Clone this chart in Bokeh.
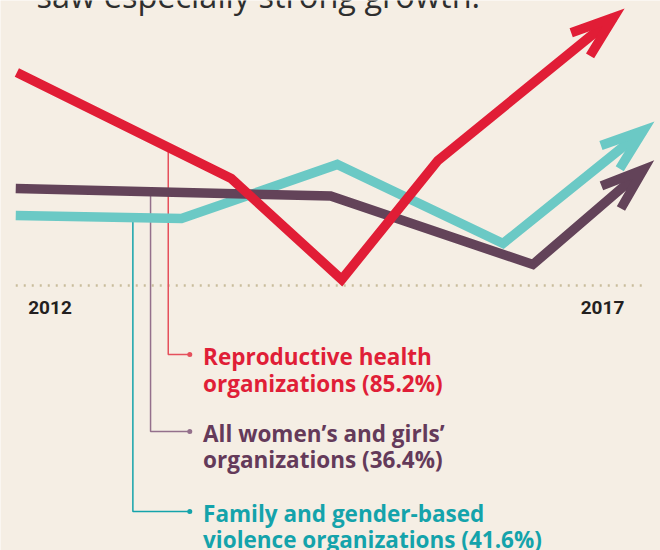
from bokeh.plotting import figure
from bokeh.models import Range1d
from bokeh.core.properties import value
from bokeh.embed import file_html
from bokeh.resources import INLINE
import numpy as np

# ---------------- data ----------------
title_text = "saw especially strong growth."
tick_years = [2012, 2017]
tick_labels = ["2012", "2017"]

# stylised index lines (x in years, y in index points above baseline)
red_x = [2011.70, 2013.64, 2014.64, 2015.51, 2017.10]
red_y = [213, 107, 6, 125, 268]
purple_x = [2011.69, 2014.54, 2016.37, 2017.37]
purple_y = [97, 89.5, 21, 116]
teal_x = [2011.69, 2013.19, 2014.60, 2016.10, 2017.37]
teal_y = [70, 67, 121, 42, 155]

red_label = "Reproductive health\norganizations (85.2%)"
purple_label = "All women\u2019s and girls\u2019\norganizations (36.4%)"
teal_label = "Family and gender-based\nviolence organizations (41.6%)"

# ---------------- layout / style ----------------
W, H = 660, 550
X0, X1 = 2011.552, 2017.525
Y0, Y1 = -265, 285
SX = W / (X1 - X0)   # px per x unit
SY = H / (Y1 - Y0)   # px per y unit

BG = "#F5EEE4"
RED, PURPLE, TEAL = "#E11D36", "#634359", "#6BC9C5"
RED_LEAD, PURPLE_LEAD, TEAL_LEAD = "#E5505C", "#94708C", "#14A3AA"
RED_TXT, PURPLE_TXT, TEAL_TXT = "#E01E37", "#643A5A", "#14A3AB"
LW = 9.5

p = figure(width=W, height=H, x_range=Range1d(X0, X1), y_range=Range1d(Y0, Y1),
           x_axis_type=None, y_axis_type=None, toolbar_location=None,
           output_backend="svg", min_border=0,
           background_fill_color=BG, border_fill_color=BG)
p.outline_line_color = None
p.grid.visible = False

# title (cut off at the top)
p.text(x=[2012 + (36 - 49.5) / SX], y=[277], text=[title_text], y_offset=-13,
       text_font=value("Open Sans"), text_font_size="32.5px", text_color="#2E2E2E",
       text_baseline="alphabetic", text_align="left")

# dotted baseline
base_x = [min(red_x[0], purple_x[0], teal_x[0]), max(purple_x[-1], teal_x[-1])]
p.line(base_x, [0, 0], line_color="#C9BD9C", line_width=2.5, line_dash="2 6")

# year labels
p.text(x=tick_years, y=[-29.5] * len(tick_years), text=tick_labels, y_offset=-8,
       text_font=value("Roboto"), text_font_style="bold", text_font_size="19px",
       text_color="#231F20", text_align="center", text_baseline="alphabetic")

# leaders + labels
leader_x = [2013.07, 2012.91, 2012.75]
elbow_y = [-69, -146, -226]
lead_end_x = 2013.265
label_x = 2013.385
label_y = [-80, -156.5, -236.5]
LINE_STEP = 26.5

series = [(red_x, red_y, RED, RED_LEAD, RED_TXT, red_label),
          (purple_x, purple_y, PURPLE, PURPLE_LEAD, PURPLE_TXT, purple_label),
          (teal_x, teal_y, TEAL, TEAL_LEAD, TEAL_TXT, teal_label)]

for i, (xs, ys, col, lcol, tcol, lab) in enumerate(series):
    y_on_line = float(np.interp(leader_x[i], xs, ys))
    p.line([leader_x[i], leader_x[i], lead_end_x], [y_on_line, elbow_y[i], elbow_y[i]],
           line_color=lcol, line_width=1.5)
    p.scatter([lead_end_x], [elbow_y[i]], size=5, fill_color=lcol, line_color=None)
    lines = lab.split("\n")
    p.text(x=[label_x] * len(lines), y=[label_y[i]] * len(lines), text=lines,
           y_offset=[k * LINE_STEP - 9 for k in range(len(lines))],
           text_font=value("Open Sans"), text_font_style="bold", text_font_size="22.5px",
           text_color=tcol, text_baseline="alphabetic", text_align="left")


def arrow_head(xs, ys, length=45, half_angle=19.4):
    tx, ty = xs[-1], ys[-1]
    dx, dy = (tx - xs[-2]) * SX, (ty - ys[-2]) * SY
    n = np.hypot(dx, dy)
    ux, uy = -dx / n, -dy / n
    out_x, out_y = [], []
    for s in (1, -1):
        a = np.radians(half_angle) * s
        bx = ux * np.cos(a) - uy * np.sin(a)
        by = ux * np.sin(a) + uy * np.cos(a)
        out_x.append(tx + length * bx / SX)
        out_y.append(ty + length * by / SY)
    return [out_x[0], tx, out_x[1]], [out_y[0], ty, out_y[1]]


for xs, ys, col, lcol, tcol, lab in [series[2], series[1], series[0]]:
    p.line(xs, ys, line_color=col, line_width=LW, line_join="miter", line_cap="butt")
    hx, hy = arrow_head(xs, ys)
    p.line(hx, hy, line_color=col, line_width=LW, line_join="miter", line_cap="butt")

open("out.html", "w").write(file_html(p, INLINE))
